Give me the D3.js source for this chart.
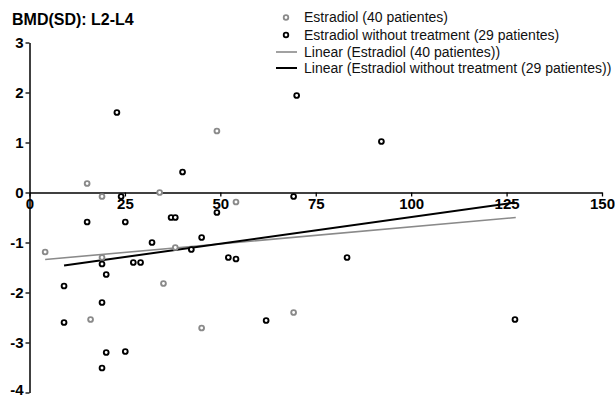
<!DOCTYPE html>
<html>
<head>
<meta charset="utf-8">
<script src="https://cdn.jsdelivr.net/npm/d3@7"></script>
<style>
  body { margin: 0; background: #fff; }
  text { font-family: "Liberation Sans", Arial, sans-serif; }
</style>
</head>
<body>
<div id="chart"></div>
<script>
// values
const treatedX = [15.1, 19.0, 49.1, 34.1, 4.1, 19.0, 38.2, 35.1, 16.0, 45.1, 69.2, 54.1];
const treatedY = [0.18, -0.08, 1.23, 0.0, -1.19, -1.30, -1.10, -1.82, -2.54, -2.71, -2.40, -0.19];

const untreatedX = [22.9, 40.1, 70.0, 24.0, 69.2, 92.2, 15.1, 25.1, 37.1, 38.2, 49.1, 32.1, 45.1, 42.4, 52.1,
  54.1, 27.2, 29.1, 19.0, 20.1, 9.05, 19.0, 9.05, 62.0, 20.1, 25.1, 19.0, 83.2, 127.2];
const untreatedY = [1.60, 0.41, 1.94, -0.08, -0.08, 1.02, -0.59, -0.59, -0.50, -0.50, -0.40, -1.0, -0.90, -1.14, -1.30,
  -1.33, -1.40, -1.40, -1.43, -1.64, -1.87, -2.20, -2.60, -2.56, -3.20, -3.18, -3.51, -1.30, -2.54];

// trend line end points
const treatedTrendX = [4.1, 127.4];
const treatedTrendY = [-1.34, -0.50];
const untreatedTrendX = [9.05, 127.2];
const untreatedTrendY = [-1.46, -0.20];

const xTicks = [0, 25, 50, 75, 100, 125, 150];
const yTicks = [-4, -3, -2, -1, 0, 1, 2, 3];

const legendLabels = [
  "Estradiol (40 patientes)",
  "Estradiol without treatment (29 patientes)",
  "Linear (Estradiol (40 patientes))",
  "Linear (Estradiol without treatment (29 patientes))"
];

const width = 615;
const height = 399;
const grey = "#8a8a8a";

const svg = d3.select("#chart").append("svg")
  .attr("width", width)
  .attr("height", height);

const x = d3.scaleLinear().domain([0, 150]).range([29.5, 602]);
const y = d3.scaleLinear().domain([-4, 3]).range([392.5, 42.5]);

// title
svg.append("text")
  .attr("x", 12)
  .attr("y", 25)
  .style("font-weight", "bold")
  .style("font-size", "16px")
  .text("BMD(SD): L2-L4");

// y axis
const yAxis = svg.append("g")
  .attr("transform", `translate(${x(0)},0)`)
  .call(d3.axisLeft(y).tickValues(yTicks).tickSize(4).tickSizeOuter(0).tickFormat(d3.format("d")));

// x axis at y = 0
const xAxis = svg.append("g")
  .attr("transform", `translate(0,${y(0)})`)
  .call(d3.axisBottom(x).tickValues(xTicks).tickSize(4).tickSizeOuter(0));

[xAxis, yAxis].forEach(ax => {
  ax.select(".domain").attr("stroke", "#000").attr("stroke-width", 1.5);
  ax.selectAll(".tick line").attr("stroke", "#000").attr("stroke-width", 1.3);
  ax.selectAll(".tick text")
    .attr("fill", "#000")
    .style("font-family", "'Liberation Sans', Arial, sans-serif")
    .style("font-weight", "bold")
    .style("font-size", "15px");
});
yAxis.selectAll(".tick text").attr("x", -6).text(d => d < 0 ? "-" + Math.abs(d) : d);
// keep the lowest label inside the picture
yAxis.selectAll(".tick text").filter(d => d === -4).attr("dy", "0.1em");
xAxis.selectAll(".tick text").attr("y", 6);

// trend lines
const line = d3.line().x(d => x(d[0])).y(d => y(d[1]));

svg.append("path")
  .datum(d3.zip(treatedTrendX, treatedTrendY))
  .attr("d", line)
  .attr("fill", "none")
  .attr("stroke", grey)
  .attr("stroke-width", 1.6);

svg.append("path")
  .datum(d3.zip(untreatedTrendX, untreatedTrendY))
  .attr("d", line)
  .attr("fill", "none")
  .attr("stroke", "#000")
  .attr("stroke-width", 2);

// points
function drawPoints(xs, ys, color) {
  svg.append("g")
    .selectAll("circle")
    .data(d3.zip(xs, ys))
    .join("circle")
    .attr("cx", d => x(d[0]))
    .attr("cy", d => y(d[1]))
    .attr("r", 2.4)
    .attr("fill", "#fff")
    .attr("stroke", color)
    .attr("stroke-width", 1.9);
}
drawPoints(treatedX, treatedY, grey);
drawPoints(untreatedX, untreatedY, "#000");

// legend
const legendRows = [22, 39.5, 56.5, 72.5];
const legend = svg.append("g");

legend.append("circle")
  .attr("cx", 286).attr("cy", legendRows[0] - 4.5).attr("r", 2.3)
  .attr("fill", "#fff").attr("stroke", grey).attr("stroke-width", 1.8);
legend.append("circle")
  .attr("cx", 286).attr("cy", legendRows[1] - 4.5).attr("r", 2.3)
  .attr("fill", "#fff").attr("stroke", "#000").attr("stroke-width", 1.8);
legend.append("line")
  .attr("x1", 276).attr("x2", 297)
  .attr("y1", legendRows[2] - 4.5).attr("y2", legendRows[2] - 4.5)
  .attr("stroke", grey).attr("stroke-width", 1.6);
legend.append("line")
  .attr("x1", 276).attr("x2", 297)
  .attr("y1", legendRows[3] - 4.5).attr("y2", legendRows[3] - 4.5)
  .attr("stroke", "#000").attr("stroke-width", 2);

legend.selectAll("text")
  .data(legendLabels)
  .join("text")
  .attr("x", 304)
  .attr("y", (d, i) => legendRows[i])
  .style("font-size", "14px")
  .attr("fill", "#111")
  .text(d => d);
</script>
</body>
</html>
